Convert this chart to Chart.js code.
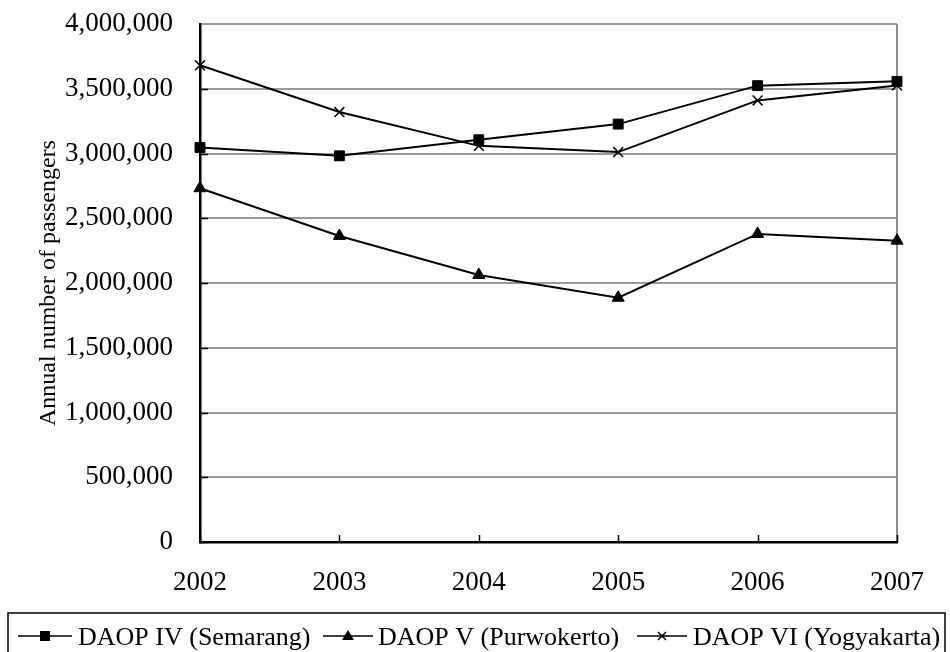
<!DOCTYPE html>
<html>
<head>
<meta charset="utf-8">
<title>Annual number of passengers by DAOP</title>
<script src="https://cdn.jsdelivr.net/npm/chart.js@4/dist/chart.umd.min.js"></script>
<style>
    body { margin: 0; background: #fff; }
    #wrap { width: 950px; height: 652px; }
</style>
</head>
<body>
<div id="wrap"><canvas id="passengerChart" width="950" height="652"></canvas></div>
<script>
// Annual passengers per operating area (DAOP), 2002-2007
const years = ['2002', '2003', '2004', '2005', '2006', '2007'];
const semarang = [3046000, 2982000, 3106000, 3227000, 3524000, 3557000];
const purwokerto = [2732000, 2363000, 2062000, 1886000, 2379000, 2327000];
const yogyakarta = [3681000, 3320000, 3059000, 3011000, 3410000, 3526000];
const seriesNames = ['DAOP IV (Semarang)', 'DAOP V (Purwokerto)', 'DAOP VI (Yogyakarta)'];

const serif = "'Liberation Serif', 'Times New Roman', serif";

// Short tick marks drawn inward from the axes, plus the boxed legend
const axisExtras = {
    id: 'axisExtras',
    afterDraw(chart, args, opts) {
        const ctx = chart.ctx;
        const x = chart.scales.x;
        const y = chart.scales.y;
        const area = chart.chartArea;
        ctx.save();
        ctx.strokeStyle = '#000';
        ctx.lineWidth = 1.5;
        ctx.beginPath();
        y.ticks.forEach((t, i) => {
            if (i === y.ticks.length - 1) return;
            const py = Math.round(y.getPixelForTick(i)) + 0.5;
            ctx.moveTo(area.left, py);
            ctx.lineTo(area.left + 8, py);
        });
        x.ticks.forEach((t, i) => {
            const px = Math.round(x.getPixelForTick(i)) + 0.5;
            ctx.moveTo(px, area.bottom);
            ctx.lineTo(px, area.bottom - 7);
        });
        ctx.stroke();

        // legend
        ctx.lineWidth = 1.5;
        ctx.strokeRect(8, 613, 937, 60);
        ctx.font = '26px ' + serif;
        ctx.fillStyle = '#000';
        ctx.textBaseline = 'alphabetic';
        const ly = 636;
        chart.data.datasets.forEach((ds, i) => {
            const it = opts.items[i];
            ctx.lineWidth = 1.5;
            ctx.beginPath();
            ctx.moveTo(it.x0, ly);
            ctx.lineTo(it.x1, ly);
            ctx.stroke();
            const mx = (it.x0 + it.x1) / 2;
            if (ds.pointStyle === 'rect') {
                ctx.fillRect(mx - 5, ly - 5, 10, 10);
            } else if (ds.pointStyle === 'triangle') {
                ctx.beginPath();
                ctx.moveTo(mx, ly - 6);
                ctx.lineTo(mx + 6, ly + 4);
                ctx.lineTo(mx - 6, ly + 4);
                ctx.closePath();
                ctx.fill();
            } else {
                ctx.beginPath();
                ctx.moveTo(mx - 4, ly - 4);
                ctx.lineTo(mx + 4, ly + 4);
                ctx.moveTo(mx + 4, ly - 4);
                ctx.lineTo(mx - 4, ly + 4);
                ctx.stroke();
            }
            ctx.fillText(ds.label, it.tx, 645);
        });
        ctx.restore();
    }
};

function makeSeries(label, data, style, radius) {
    return {
        label: label,
        data: data,
        borderColor: '#000',
        backgroundColor: '#000',
        borderWidth: 2,
        tension: 0,
        pointStyle: style,
        pointRadius: radius,
        pointHoverRadius: radius,
        pointBackgroundColor: '#000',
        pointBorderColor: '#000',
        pointBorderWidth: style === 'crossRot' ? 1.5 : 1
    };
}

new Chart(document.getElementById('passengerChart').getContext('2d'), {
    type: 'line',
    data: {
        labels: years,
        datasets: [
            makeSeries(seriesNames[0], semarang, 'rect', 7),
            makeSeries(seriesNames[1], purwokerto, 'triangle', 7),
            makeSeries(seriesNames[2], yogyakarta, 'crossRot', 7)
        ]
    },
    options: {
        responsive: false,
        animation: false,
        layout: { padding: { left: 20, right: 53, top: 24, bottom: 52 } },
        plugins: {
            legend: { display: false },
            tooltip: { enabled: false },
            axisExtras: {
                items: [
                    { x0: 18, x1: 72, tx: 78 },
                    { x0: 323, x1: 373, tx: 378 },
                    { x0: 637, x1: 687, tx: 693 }
                ]
            }
        },
        scales: {
            x: {
                offset: false,
                afterFit: (scale) => { scale.height = 58; },
                grid: {
                    drawTicks: false,
                    color: (c) => c.index === years.length - 1 ? '#8c8c8c' : 'rgba(0,0,0,0)',
                    lineWidth: 2
                },
                border: { color: '#000', width: 2.5 },
                ticks: {
                    padding: 25,
                    color: '#000',
                    maxRotation: 0,
                    font: { family: serif, size: 27 }
                }
            },
            y: {
                min: 0,
                max: 4000000,
                afterFit: (scale) => {
                    scale.width = 180;
                    scale.paddingTop = 0;
                    scale.paddingBottom = 0;
                },
                grid: { drawTicks: false, color: '#999', lineWidth: 2 },
                border: { color: '#000', width: 2.5 },
                ticks: {
                    stepSize: 500000,
                    padding: 27,
                    color: '#000',
                    font: { family: serif, size: 27 },
                    callback: (v) => v.toLocaleString('en-US')
                },
                title: {
                    display: true,
                    text: 'Annual number of passengers',
                    color: '#000',
                    padding: { top: 14, bottom: 0 },
                    font: { family: serif, size: 24 }
                }
            }
        }
    },
    plugins: [axisExtras]
});
</script>
</body>
</html>
